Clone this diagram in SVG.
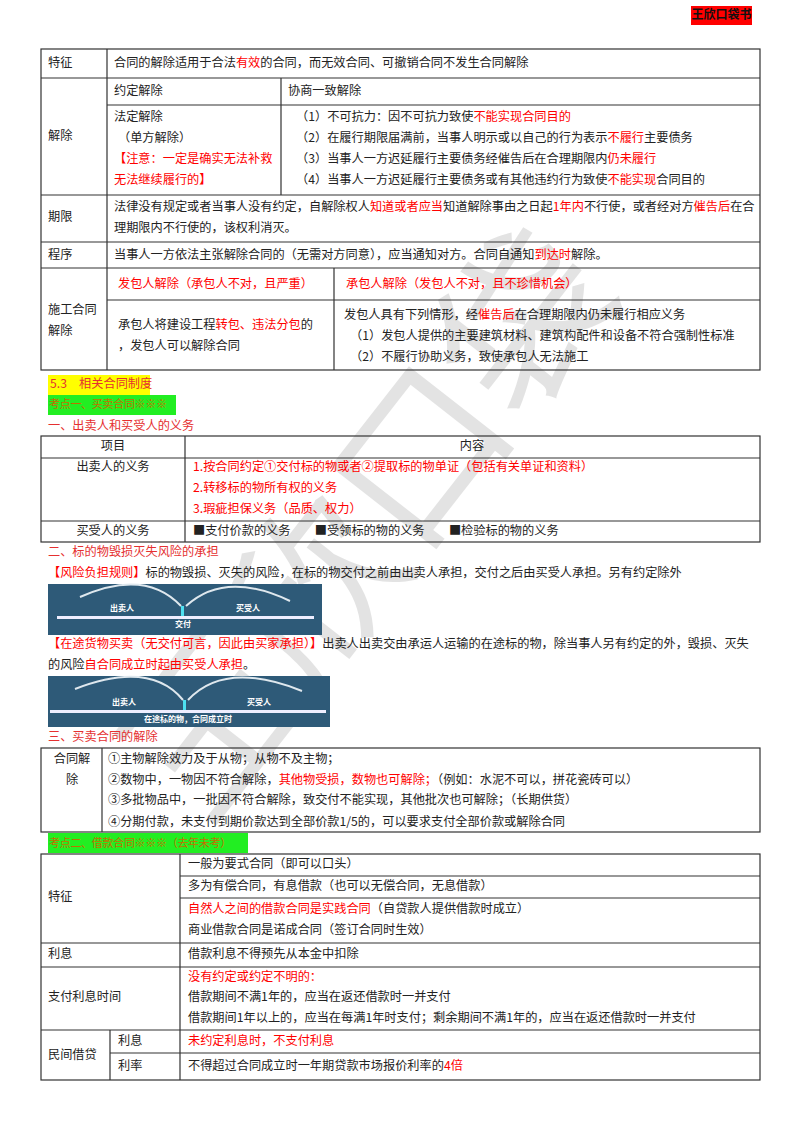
<svg xmlns="http://www.w3.org/2000/svg" width="800" height="1132" viewBox="0 0 800 1132">
<style>
text{font-family:"Noto Sans CJK SC","Noto Sans",sans-serif;font-size:12.2px;fill:#222;dominant-baseline:middle}
.r{fill:#f00}
.c{text-anchor:middle}
.h{fill:#e53030;font-size:12.2px}
.g{fill:#c07000;font-size:11px}
.ln{stroke:#333;stroke-width:1.2;fill:none}
.w{fill:#fff;font-size:8px;font-weight:bold}
.arc{stroke:#dfe8ee;stroke-width:2;fill:none}
</style>
<rect width="800" height="1132" fill="#fff"/>
<g id="badge"><rect x="691" y="6" width="61" height="19" fill="#f00"/><text x="721.5" y="16" class="c" style="font-weight:bold;font-size:12px;fill:#111">王欣口袋书</text></g>
<g id="watermark" opacity="0.2"><text x="0" y="0" transform="translate(170,800) rotate(-52)" style="font-size:170px;fill:#777">王欣口袋</text></g>

<g id="table1">
<rect x="41" y="49" width="719" height="321" class="ln"/>
<path class="ln" d="M107 49V370 M41 78H760 M107 105H760 M281 78V195 M41 195H760 M41 242H760 M41 268H760 M107 300H760 M334 268V370"/>
<text x="48" y="64">特征</text>
<text x="114" y="64">合同的解除适用于合法<tspan class="r">有效</tspan>的合同，而无效合同、可撤销合同不发生合同解除</text>
<text x="114" y="92">约定解除</text><text x="288" y="92">协商一致解除</text>
<text x="48" y="137">解除</text>
<text x="114" y="118">法定解除</text>
<text x="118" y="139">（单方解除）</text>
<text x="114" y="160" class="r">【注意：一定是确实无法补救</text>
<text x="114" y="181" class="r">无法继续履行的】</text>
<text x="296" y="118">（1）不可抗力：因不可抗力致使<tspan class="r">不能实现合同目的</tspan></text>
<text x="296" y="139">（2）在履行期限届满前，当事人明示或以自己的行为表示<tspan class="r">不履行</tspan>主要债务</text>
<text x="296" y="160">（3）当事人一方迟延履行主要债务经催告后在合理期限内<tspan class="r">仍未履行</tspan></text>
<text x="296" y="181">（4）当事人一方迟延履行主要债务或有其他违约行为致使<tspan class="r">不能实现</tspan>合同目的</text>
<text x="48" y="218">期限</text>
<text x="114" y="208">法律没有规定或者当事人没有约定，自解除权人<tspan class="r">知道或者应当</tspan>知道解除事由之日起<tspan class="r">1年内</tspan>不行使，或者经对方<tspan class="r">催告后</tspan>在合</text>
<text x="114" y="229">理期限内不行使的，该权利消灭。</text>
<text x="48" y="256">程序</text>
<text x="114" y="256">当事人一方依法主张解除合同的（无需对方同意），应当通知对方。合同自通知<tspan class="r">到达时</tspan>解除。</text>
<text x="118" y="285" class="r">发包人解除（承包人不对，且严重）</text>
<text x="346" y="285" class="r">承包人解除（发包人不对，且不珍惜机会）</text>
<text x="48" y="311">施工合同</text><text x="48" y="332">解除</text>
<text x="118" y="326">承包人将建设工程<tspan class="r">转包、违法分包</tspan>的</text>
<text x="118" y="347">，发包人可以解除合同</text>
<text x="344" y="316">发包人具有下列情形，经<tspan class="r">催告后</tspan>在合理期限内仍未履行相应义务</text>
<text x="350" y="337">（1）发包人提供的主要建筑材料、建筑构配件和设备不符合强制性标准</text>
<text x="350" y="358">（2）不履行协助义务，致使承包人无法施工</text>
</g>

<g id="headings1">
<rect x="48" y="375" width="102" height="20" fill="#ffff00"/>
<text x="50" y="385" style="fill:#e53030">5.3　相关合同制度</text>
<rect x="48" y="395" width="128" height="20" fill="#22ee22"/>
<text x="49" y="405" class="g" style="letter-spacing:-0.3px">考点一、买卖合同※※※</text>
<text x="48" y="427" class="h">一、出卖人和买受人的义务</text>
</g>

<g id="table2">
<rect x="41" y="436" width="719" height="106" class="ln"/>
<path class="ln" d="M185 436V542 M41 458H760 M41 521H760"/>
<text x="113" y="447" class="c">项目</text><text x="472" y="447" class="c">内容</text>
<text x="113" y="468" class="c">出卖人的义务</text>
<text x="193" y="468" class="r">1.按合同约定①交付标的物或者②提取标的物单证（包括有关单证和资料）</text>
<text x="193" y="489" class="r">2.转移标的物所有权的义务</text>
<text x="193" y="510" class="r">3.瑕疵担保义务（品质、权力）</text>
<text x="113" y="532" class="c">买受人的义务</text>
<text x="193" y="532">■支付价款的义务　　■受领标的物的义务　　■检验标的物的义务</text>
</g>

<g id="risk">
<text x="48" y="553" class="h">二、标的物毁损灭失风险的承担</text>
<text x="48" y="574"><tspan class="r">【风险负担规则】</tspan>标的物毁损、灭失的风险，在标的物交付之前由出卖人承担，交付之后由买受人承担。另有约定除外</text>
<rect x="48" y="584" width="274" height="51" fill="#2e5a78"/>
<path class="arc" d="M80 597Q145 568 181 606 M186 606Q225 570 290 601"/>
<rect x="57" y="616" width="257" height="3" fill="#eef"/>
<rect x="181" y="606" width="3" height="10" fill="#4ee0f0"/>
<text x="122" y="609" class="w c">出卖人</text><text x="248" y="609" class="w c">买受人</text><text x="183" y="625" class="w c">交付</text>
<text x="48" y="645"><tspan class="r">【在途货物买卖（无交付可言，因此由买家承担）】</tspan>出卖人出卖交由承运人运输的在途标的物，除当事人另有约定的外，毁损、灭失</text>
<text x="48" y="666">的风险<tspan class="r">自合同成立时起由买受人承担</tspan>。</text>
<rect x="48" y="676" width="282" height="51" fill="#2e5a78"/>
<path class="arc" d="M75 689Q150 660 183 700 M188 700Q225 660 302 691"/>
<rect x="50" y="710" width="276" height="3" fill="#eef"/>
<rect x="183" y="700" width="3" height="10" fill="#4ee0f0"/>
<text x="124" y="703" class="w c">出卖人</text><text x="259" y="703" class="w c">买受人</text><text x="188" y="720" class="w c">在途标的物，合同成立时</text>
<text x="48" y="738" class="h">三、买卖合同的解除</text>
</g>

<g id="table3">
<rect x="41" y="748" width="719" height="84" class="ln"/>
<path class="ln" d="M102 748V832"/>
<text x="72" y="760" class="c">合同解</text><text x="72" y="781" class="c">除</text>
<text x="108" y="760">①主物解除效力及于从物；从物不及主物；</text>
<text x="108" y="781">②数物中，一物因不符合解除，<tspan class="r">其他物受损，数物也可解除；</tspan>（例如：水泥不可以，拼花瓷砖可以）</text>
<text x="108" y="801">③多批物品中，一批因不符合解除，致交付不能实现，其他批次也可解除；（长期供货）</text>
<text x="108" y="823">④分期付款，未支付到期价款达到全部价款1/5的，可以要求支付全部价款或解除合同</text>
</g>

<g id="heading2">
<rect x="48" y="833" width="200" height="20" fill="#22ee22"/>
<text x="49" y="844" class="g" style="letter-spacing:-0.3px">考点二、借款合同※※※（去年未考）</text>
</g>

<g id="table4">
<rect x="41" y="854" width="719" height="226" class="ln"/>
<path class="ln" d="M180 854V1080 M180 876H760 M180 898H760 M41 943H760 M41 967H760 M41 1030H760 M110 1030V1080 M110 1053H760"/>
<text x="48" y="898">特征</text>
<text x="188" y="865">一般为要式合同（即可以口头）</text>
<text x="188" y="887">多为有偿合同，有息借款（也可以无偿合同，无息借款）</text>
<text x="188" y="910"><tspan class="r">自然人之间的借款合同是实践合同</tspan>（自贷款人提供借款时成立）</text>
<text x="188" y="931">商业借款合同是诺成合同（签订合同时生效）</text>
<text x="48" y="955">利息</text>
<text x="188" y="955">借款利息不得预先从本金中扣除</text>
<text x="48" y="998">支付利息时间</text>
<text x="188" y="978" class="r">没有约定或约定不明的：</text>
<text x="188" y="998">借款期间不满1年的，应当在返还借款时一并支付</text>
<text x="188" y="1019">借款期间1年以上的，应当在每满1年时支付；剩余期间不满1年的，应当在返还借款时一并支付</text>
<text x="48" y="1056">民间借贷</text>
<text x="118" y="1042">利息</text><text x="118" y="1067">利率</text>
<text x="188" y="1042" class="r">未约定利息时，不支付利息</text>
<text x="188" y="1067">不得超过合同成立时一年期贷款市场报价利率的<tspan class="r">4倍</tspan></text>
</g>
</svg>
